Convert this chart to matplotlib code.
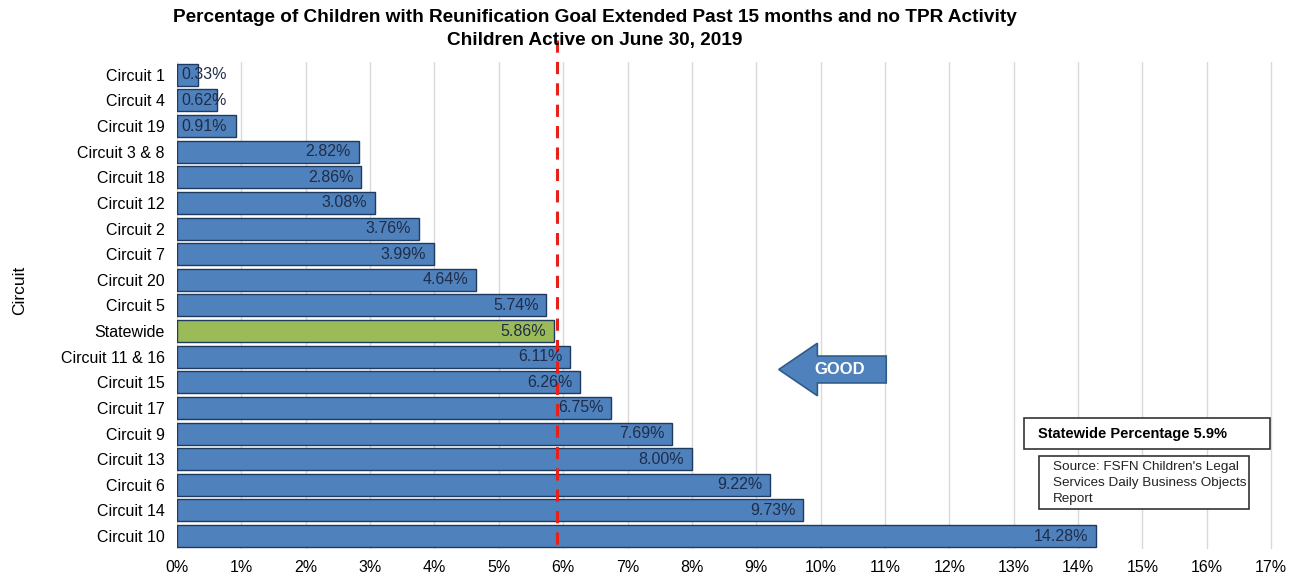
import matplotlib.pyplot as plt
from matplotlib.patches import FancyArrow, Rectangle

plt.rcParams['font.family'] = ['Liberation Sans', 'DejaVu Sans']

# data, top to bottom
circuits = ["Circuit 1", "Circuit 4", "Circuit 19", "Circuit 3 & 8", "Circuit 18",
            "Circuit 12", "Circuit 2", "Circuit 7", "Circuit 20", "Circuit 5",
            "Statewide", "Circuit 11 & 16", "Circuit 15", "Circuit 17", "Circuit 9",
            "Circuit 13", "Circuit 6", "Circuit 14", "Circuit 10"]
pct = [0.33, 0.62, 0.91, 2.82, 2.86, 3.08, 3.76, 3.99, 4.64, 5.74,
       5.86, 6.11, 6.26, 6.75, 7.69, 8.00, 9.22, 9.73, 14.28]
statewide_target = 5.9
xticks = list(range(0, 18))

W, H = 1297, 579
fig = plt.figure(figsize=(W / 100, H / 100), dpi=100)
ax = fig.add_axes([0.1365, 0.052, 0.846, 0.841])

ypos = list(range(len(circuits)))
colors = ['#9BBB59' if c == "Statewide" else '#4F81BD' for c in circuits]
ax.barh(ypos, pct, height=0.86, color=colors, edgecolor='#1F3A5F', linewidth=1.0, zorder=2)

# value labels (inside end, overflow for small bars)
for y, v in zip(ypos, pct):
    if v < 1.5:
        ax.text(0.06, y, f"{v:.2f}%", ha='left', va='center', fontsize=11.5,
                color='#1F2D4A', zorder=4)
    else:
        ax.text(v - 0.12, y, f"{v:.2f}%", ha='right', va='center', fontsize=11.5,
                color='#1F2D4A', zorder=4)

ax.set_ylim(len(circuits) - 0.5, -0.5)
ax.set_yticks(ypos)
ax.set_yticklabels(circuits, fontsize=11.5)
ax.set_xlim(0, 17.05)
ax.set_xticks(xticks)
ax.set_xticklabels([f"{t}%" for t in xticks], fontsize=11.5)
ax.tick_params(length=0, pad=8)
ax.tick_params(axis='y', pad=9)
ax.grid(axis='x', color='#D9D9D9', linewidth=1.0, zorder=0)
for s in ax.spines.values():
    s.set_visible(False)
ax.set_ylabel("Circuit", fontsize=12.5)
ax.yaxis.set_label_coords(-0.137, 0.53)

# statewide reference line
ax.plot([statewide_target, statewide_target], [-1.35, len(circuits) - 0.5],
        color='#E8201A', linestyle=(0, (4, 3)), linewidth=2.2, clip_on=False, zorder=3)

# GOOD arrow
arr = FancyArrow(11.02, 11.5, -1.67, 0, width=1.05, head_width=2.05, head_length=0.6,
                 length_includes_head=True, facecolor='#4F81BD', edgecolor='#2E5C8A',
                 linewidth=1.2, zorder=3)
ax.add_patch(arr)
ax.text(10.3, 11.5, "GOOD", ha='center', va='center', color='white',
        fontsize=12, fontweight='bold', zorder=4)

# text boxes
fig.patches.append(Rectangle((1024 / W, 1 - 449 / H), 246 / W, 31 / H, transform=fig.transFigure,
                             facecolor='white', edgecolor='#333333', linewidth=1.2))
fig.text(1038 / W, 1 - 434 / H, "Statewide Percentage 5.9%", fontsize=10.5, fontweight='bold',
         va='center', ha='left')
fig.patches.append(Rectangle((1039 / W, 1 - 509 / H), 210 / W, 53 / H, transform=fig.transFigure,
                             facecolor='white', edgecolor='#333333', linewidth=1.2))
fig.text(1053 / W, 1 - 483 / H, "Source: FSFN Children's Legal\nServices Daily Business Objects\nReport",
         fontsize=9.7, va='center', ha='left', linespacing=1.45, color='#222222')

fig.text(595 / W, 1 - 18 / H, "Percentage of Children with Reunification Goal Extended Past 15 months and no TPR Activity",
         ha='center', va='center', fontsize=13.7, fontweight='bold')
fig.text(595 / W, 1 - 40 / H, "Children Active on June 30, 2019",
         ha='center', va='center', fontsize=13.7, fontweight='bold')

fig.savefig("out.png", dpi=100)
